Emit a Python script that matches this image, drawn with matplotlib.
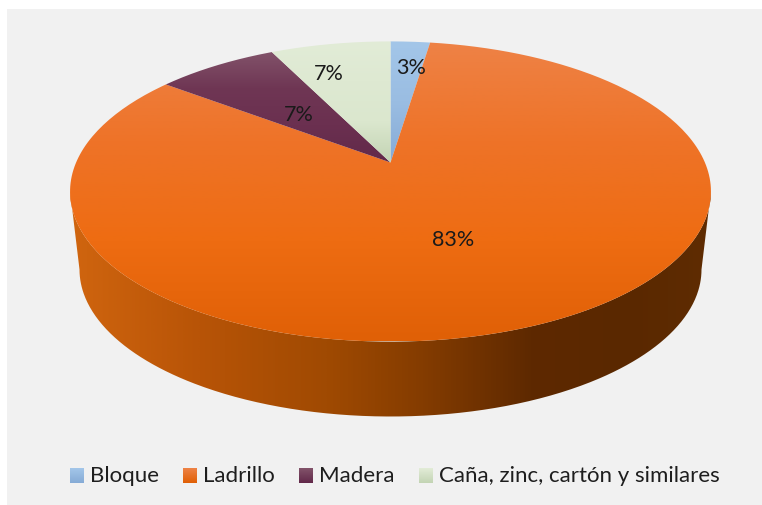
import numpy as np
import matplotlib
matplotlib.use("Agg")
import matplotlib.pyplot as plt
from matplotlib.path import Path
from matplotlib.patches import PathPatch, Rectangle
from matplotlib.colors import LinearSegmentedColormap as LSC

categories = ["Bloque", "Ladrillo", "Madera", "Caña, zinc, cartón y similares"]
values = [2.4, 82.9, 7.4, 7.3]
value_labels = ["3%", "83%", "7%", "7%"]

plt.rcParams['font.family'] = ['Lato', 'DejaVu Sans']
W, H = 762, 506
fig = plt.figure(figsize=(W/100, H/100), dpi=100, facecolor='white')
ax = fig.add_axes([0, 0, 1, 1])
ax.set_xlim(0, W); ax.set_ylim(H, 0); ax.axis('off')
ax.add_patch(Rectangle((7, 10), 755, 496, fc='#F1F1F1', ec='none', zorder=0))

# perspective map of the unit disc onto the picture
CX, CY, K, PA, PC = 390.5, 163.5, 314.4, -112.9, 0.1933
def project(angle, r=1.0):
    x, y = r*np.sin(angle), r*np.cos(angle)
    d = 1 + PC*y
    return CX + K*x/d, (PA*y + CY)/d

def vgrad(colors, y0, y1, clip, z):
    cm = LSC.from_list('g', colors)
    im = ax.imshow(np.linspace(0, 1, 256)[:, None], cmap=cm, aspect='auto',
                   extent=(0, W, y1, y0), zorder=z, interpolation='bilinear')
    im.set_clip_path(clip)
    return im

# side wall
t = np.linspace(0, 2*np.pi, 721)
tx, ty = project(t)
i0 = np.argmin(tx)
i1 = np.argmax(tx)
top_low = np.array([project(a) for a in np.linspace(t[i1], t[i0], 400)])
a2 = np.linspace(np.pi, 0, 400)
bot = np.column_stack([390.5 + 311*np.cos(a2), 270.5 + 147*np.sin(a2)])
side_xy = np.vstack([top_low, bot])
side = PathPatch(Path(np.vstack([side_xy, side_xy[0]])), fc='none', ec='none', transform=ax.transData)
ax.add_patch(side)
side_cm = LSC.from_list('s', [(0, '#D0650F'), (0.2, '#B85407'), (0.4, '#A04A02'),
                              (0.55, '#843C00'), (0.72, '#5E2900'), (0.87, '#5A2800'), (1, '#5F2C02')])
im = ax.imshow(np.linspace(0, 1, 512)[None, :], cmap=side_cm, aspect='auto',
               extent=(70, 711, 420, 180), zorder=1, interpolation='bilinear')
im.set_clip_path(side)

# top face
grads = [['#A3C6E9', '#9ABDE2', '#86ABD6'],
         ['#EE8246', '#EE7328', '#EE6C12', '#E06006'],
         ['#82536A', '#6F3654', '#6B3050', '#62294A'],
         ['#E2ECD7', '#DEE9D2', '#DBE7CE', '#C3D4B4']]
spans = [(42, 163), (42, 342), (52, 163), (42, 163)]
cum = np.concatenate([[0], np.cumsum(values)]) / np.sum(values) * 2*np.pi
for k in range(len(values)):
    a = np.linspace(cum[k], cum[k+1], 240)
    px, py = project(a)
    v = np.vstack([[CX, CY], np.column_stack([px, py]), [CX, CY]])
    p = PathPatch(Path(v), fc='none', ec='none', transform=ax.transData)
    ax.add_patch(p)
    vgrad(grads[k], spans[k][0], spans[k][1], p, 2)

# value labels
lab_xy = [(411, 68), (453, 240), (299, 115), (329, 74)]
for (x, y), s in zip(lab_xy, value_labels):
    ax.text(x, y, s, fontsize=15.5, color='#1A1A1A', ha='center', va='center', zorder=5)

# legend
sw_x = [70, 183, 299, 419]
tx_x = [90, 203, 319, 439]
for k, c in enumerate(categories):
    g = np.linspace(0, 1, 32)[:, None]
    ax.imshow(g, cmap=LSC.from_list('l', [grads[k][0], grads[k][-1]]), aspect='auto',
              extent=(sw_x[k], sw_x[k]+14, 484, 469), zorder=3)
    ax.text(tx_x[k], 476.5, c, fontsize=16, color='#1E1E1E', ha='left', va='center', zorder=5)
ax.set_xlim(0, W); ax.set_ylim(H, 0)
fig.savefig('out.png', dpi=100)
